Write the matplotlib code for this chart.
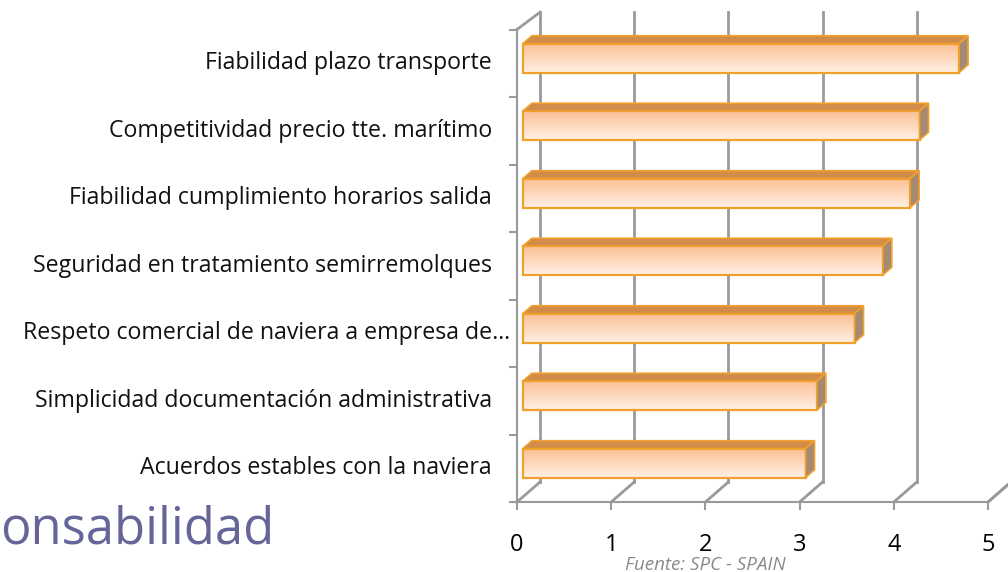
import numpy as np
import matplotlib.pyplot as plt
from matplotlib.patches import Polygon, Rectangle
from matplotlib.colors import LinearSegmentedColormap

plt.rcParams['font.family'] = ['Open Sans', 'DejaVu Sans']

# data (bottom to top)
categories = ['Acuerdos estables con la naviera',
              'Simplicidad documentación administrativa',
              'Respeto comercial de naviera a empresa de…',
              'Seguridad en tratamiento semirremolques',
              'Fiabilidad cumplimiento horarios salida',
              'Competitividad precio tte. marítimo',
              'Fiabilidad plazo transporte']
values = [3.00, 3.12, 3.52, 3.82, 4.11, 4.21, 4.63]
xticks = [0, 1, 2, 3, 4, 5]

grid_col = '#9a9a9a'
edge_col = '#f2a02c'
top_col = '#d08c48'
side_col = '#a58a72'
grad = LinearSegmentedColormap.from_list('g', ['#fff1e6', '#fbbf92'])

fig = plt.figure(figsize=(10.08, 5.72), dpi=100)
ax = fig.add_axes([517/1008, 70/572, 471/1008, 472.5/572])
n = len(categories)

# depth offsets of the back wall (data units)
DX = 23/94.2
DY = 20/67.5
f, b = 0.26, 0.65   # bar front/back depth fraction
H = 0.43

# back wall + floor
for v in xticks:
    ax.plot([v + DX, v + DX], [DY, n + DY - 0.04], color=grid_col, lw=2, zorder=1, clip_on=False)
    ax.plot([v, v + DX], [0, DY], color=grid_col, lw=2, zorder=1, clip_on=False)
ax.plot([0, DX], [n, n + DY - 0.04], color=grid_col, lw=2, zorder=1, clip_on=False)

# bars
for i, v in enumerate(values):
    x0, x1 = f*DX, v + f*DX
    yc = i + 0.5 + f*DY
    y0, y1 = yc - H/2, yc + H/2
    sx, sy = (b - f)*DX, (b - f)*DY
    ax.imshow(np.linspace(0, 1, 50).reshape(-1, 1), cmap=grad, origin='lower',
              extent=(x0, x1, y0, y1), aspect='auto', zorder=3, clip_on=False)
    ax.add_patch(Rectangle((x0, y0), x1 - x0, y1 - y0, fill=False, ec=edge_col,
                           lw=1.6, zorder=4, clip_on=False))
    ax.add_patch(Polygon([(x0, y1), (x1, y1), (x1 + sx, y1 + sy), (x0 + sx, y1 + sy)],
                         fc=top_col, ec=edge_col, lw=1.2, zorder=4, clip_on=False))
    ax.add_patch(Polygon([(x1, y0), (x1, y1), (x1 + sx, y1 + sy), (x1 + sx, y0 + sy)],
                         fc=side_col, ec=edge_col, lw=1.2, zorder=4, clip_on=False))

ax.set_xlim(0, 5)
ax.set_ylim(0, n)
ax.set_facecolor('none')
for s in ['top', 'right']:
    ax.spines[s].set_visible(False)
for s in ['left', 'bottom']:
    ax.spines[s].set_color(grid_col)
    ax.spines[s].set_linewidth(1.5)
    ax.spines[s].set_zorder(5)
ax.plot([5, 5 + DX], [0, DY], color=grid_col, lw=2, zorder=1, clip_on=False)

ax.set_xticks(xticks)
ax.set_xticklabels([str(t) for t in xticks], fontsize=17)
ax.tick_params(axis='x', length=6, width=1.5, color=grid_col, pad=16)
ax.set_yticks(np.arange(n + 1))
ax.set_yticklabels([])
ax.tick_params(axis='y', length=6, width=1.5, color=grid_col)

# category labels (the truncated one sticks out further, as in the original)
for i, c in enumerate(categories):
    xoff = 510 if c.endswith('…') else 492
    ax.annotate(c, xy=(0, i + 0.5), xycoords=('figure fraction', 'data'),
                xytext=(xoff, 0), textcoords='offset pixels',
                ha='right', va='center', fontsize=16.7, color='#111111')

fig.text(0, 1 - 543/572, 'onsabilidad', fontsize=36.5, color='#65659a', va='baseline')
fig.text(705/1008, 1 - 565/572, 'Fuente: SPC - SPAIN', fontsize=13.5, color='#8a8a8a',
         style='italic', ha='center', va='center')

fig.savefig('out.png', dpi=100)
